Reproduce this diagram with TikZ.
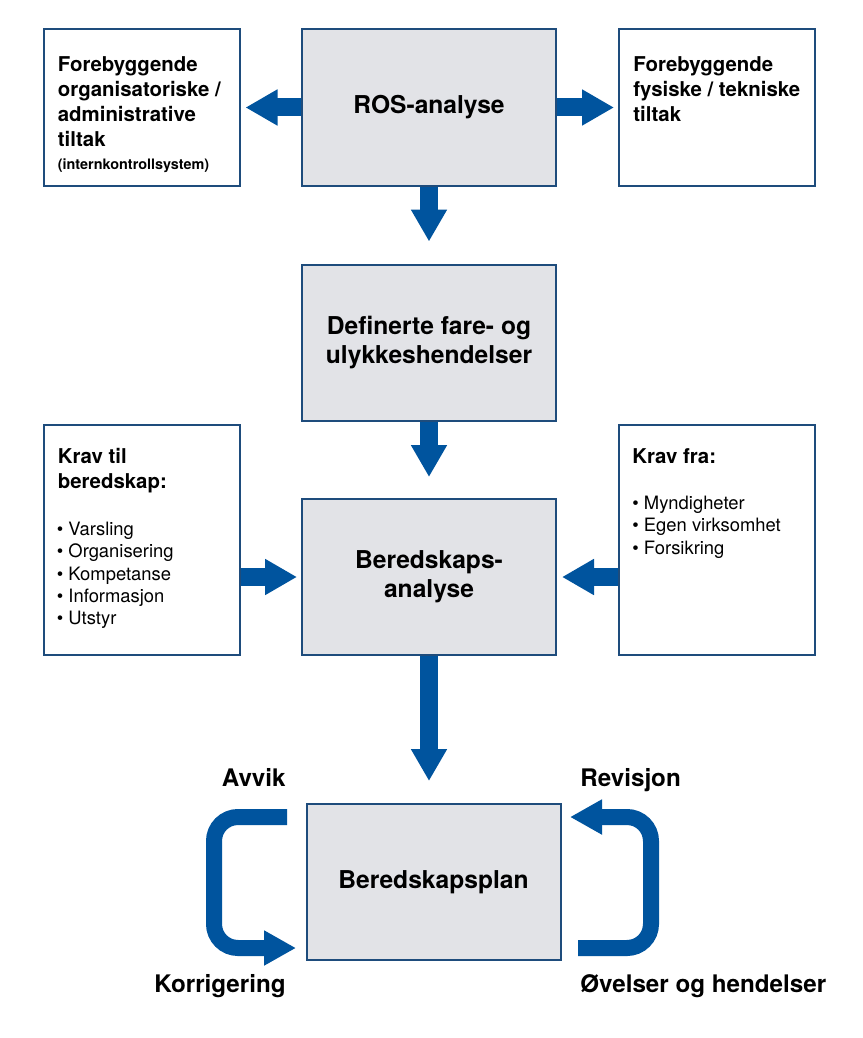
\documentclass[tikz,border=0pt]{standalone}
\usepackage{fontspec}
\setmainfont{TeX Gyre Heros}
\usetikzlibrary{positioning, arrows.meta}
\definecolor{pilblaa}{RGB}{0,84,158}
\definecolor{rammeblaa}{RGB}{30,76,124}
\definecolor{boksgraa}{RGB}{226,227,231}

\begin{document}
\begin{tikzpicture}[x=0.5pt, y=-0.5pt, node distance=117.5pt, on grid,
    gbox/.style={draw=rammeblaa, line width=1pt, fill=boksgraa, minimum width=127pt, minimum height=78pt, align=center, font=\bfseries\fontsize{12.3}{14.5}\selectfont},
    sbox/.style={draw=rammeblaa, line width=1pt, minimum width=98pt, minimum height=78pt},
    overskrift/.style={anchor=north west, inner sep=0pt, align=left, font=\bfseries\fontsize{10.2}{12.5}\selectfont},
    liste/.style={anchor=north west, inner sep=0pt, align=left, font=\fontsize{9.2}{11.2}\selectfont},
    pil/.style={draw=pilblaa, line width=9pt, -{Triangle[length=16pt, width=17pt]}},
    ringpil/.style={draw=pilblaa, line width=8pt, rounded corners=12pt, -{Triangle[length=16pt, width=16.5pt]}},
    ringtekst/.style={font=\bfseries\fontsize{12.1}{14}\selectfont, inner sep=0pt}]
  \path[use as bounding box, fill=white] (0,0) rectangle (862,1038);

  % hovedkjeden
  \node[gbox] (ros) at (429,107.5) {ROS-analyse};
  \node[gbox, below=of ros] (fare) {Definerte fare- og\\ulykkeshendelser};
  \node[gbox, below=117.25pt of fare] (beredanalyse) {Beredskaps-\\analyse};
  \node[gbox, below=152.5pt of beredanalyse, xshift=2.25pt] (plan) {Beredskapsplan};

  % sidebokser
  \node[sbox, left=143.75pt of ros] (orgtiltak) {};
  \node[sbox, right=144pt of ros] (fystiltak) {};
  \node[sbox, minimum height=115pt, left=143.75pt of beredanalyse, yshift=18.75pt] (kravtil) {};
  \node[sbox, minimum height=115pt, right=144pt of beredanalyse, yshift=18.75pt] (kravfra) {};

  \node[overskrift] (orgtekst) at ([xshift=7.5pt, yshift=-14pt]orgtiltak.north west)
    {Forebyggende\\organisatoriske /\\administrative\\tiltak\\[-1pt]{\fontsize{7.2}{9}\selectfont(internkontrollsystem)}};
  \node[overskrift] (fystekst) at ([xshift=7.5pt, yshift=-14pt]fystiltak.north west)
    {Forebyggende\\fysiske / tekniske\\tiltak};
  \node[overskrift, text depth=0pt] (kravtiltekst) at ([xshift=7.5pt, yshift=-12pt]kravtil.north west)
    {Krav til\\beredskap:};
  \node[liste] (kravtilliste) at ([xshift=7pt, yshift=-49pt]kravtil.north west)
    {\textbullet\ Varsling\\\textbullet\ Organisering\\\textbullet\ Kompetanse\\\textbullet\ Informasjon\\\textbullet\ Utstyr};
  \node[overskrift] (kravfratekst) at ([xshift=7pt, yshift=-12.5pt]kravfra.north west)
    {Krav fra:};
  \node[liste] (kravfraliste) at ([xshift=7pt, yshift=-36pt]kravfra.north west)
    {\textbullet\ Myndigheter\\\textbullet\ Egen virksomhet\\\textbullet\ Forsikring};

  % piler
  \draw[pil, shorten >=2.5pt] (ros.west) -- (orgtiltak.east);
  \draw[pil, shorten >=2pt] (ros.east) -- (fystiltak.west);
  \draw[pil, shorten >=11pt] (ros.south) -- (fare.north);
  \draw[pil, shorten >=10.5pt] (fare.south) -- (beredanalyse.north);
  \draw[pil, shorten >=2pt] (kravtil.east |- beredanalyse) -- (beredanalyse.west);
  \draw[pil, shorten >=2.5pt] (kravfra.west |- beredanalyse) -- (beredanalyse.east);
  \draw[pil, shorten >=11pt] (beredanalyse.south) -- (beredanalyse.south |- plan.north);

  % sløyfer rundt planen
  \coordinate (avvikpil) at (287,817);
  \coordinate (korrpil) at (296,948);
  \coordinate (ovelsepil) at (578,948);
  \coordinate (revpil) at (570,817);
  \draw[ringpil] (avvikpil) -- ++(-73,0) |- (korrpil);
  \draw[ringpil] (ovelsepil) -- ++(73,0) |- (revpil);

  \node[ringtekst, anchor=base east] (avvik) at (286,786) {Avvik};
  \node[ringtekst, anchor=base east] (korrigering) at (286,992) {Korrigering};
  \node[ringtekst, anchor=base west] (revisjon) at (580,786) {Revisjon};
  \node[ringtekst, anchor=base west] (ovelser) at (580,992) {Øvelser og hendelser};
\end{tikzpicture}
\end{document}
